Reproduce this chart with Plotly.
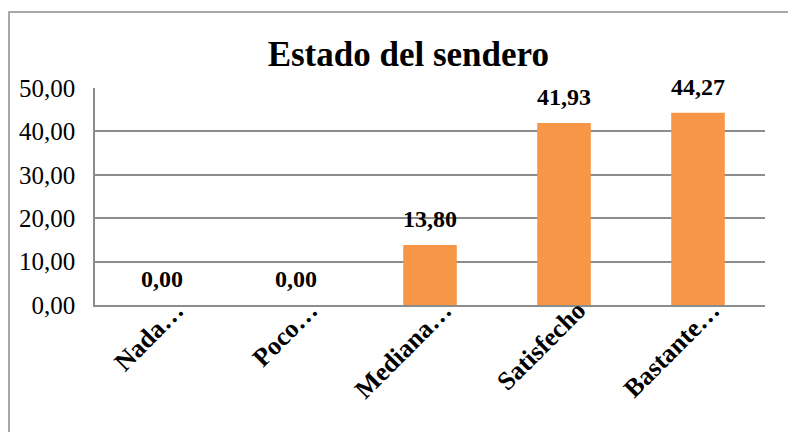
import plotly.graph_objects as go

categories = ["Nada…", "Poco…", "Mediana…", "Satisfecho", "Bastante…"]
values = [0.00, 0.00, 13.80, 41.93, 44.27]
y_ticks = [0, 10, 20, 30, 40, 50]

SERIF = "Liberation Serif, Times New Roman, serif"
GRID = "#8c8c8c"

fig = go.Figure(
    go.Bar(
        x=categories,
        y=values,
        marker_color="#F79646",
        marker_line_width=0,
        width=0.4,
    )
)

# data labels above bars
for c, v in zip(categories, values):
    fig.add_annotation(
        x=c, y=v, text=f"<b>{v:.2f}</b>".replace(".", ","),
        showarrow=False, yanchor="bottom", yshift=11,
        font=dict(family=SERIF, size=24, color="black"),
    )

# page has an 8px body margin, so the figure is sized to fit the window
W, H = 788, 424
L, R, T, B = 87, 31, 80, 127
pw, ph = W - L - R, H - T - B
# outer chart border (left/top visible only)
fig.add_shape(
    type="rect", xref="paper", yref="paper",
    x0=(1 - L) / pw, x1=(900 - L) / pw,
    y0=-(600 - ph) / ph, y1=1 + (T - 4) / ph,
    line=dict(color=GRID, width=1.5), layer="below",
)

fig.update_layout(
    width=W, height=H,
    margin=dict(l=L, r=R, t=T, b=B),
    paper_bgcolor="white", plot_bgcolor="white",
    separators=",.",
    showlegend=False,
    title=dict(
        text="<b>Estado del sendero</b>", x=0.508, xanchor="center",
        y=1 - 46 / H, yanchor="middle",
        font=dict(family=SERIF, size=35, color="black"),
    ),
    font=dict(family=SERIF, color="black"),
)
fig.update_yaxes(
    range=[0, 50], tickvals=y_ticks, tickformat=".2f",
    showgrid=True, gridcolor=GRID, gridwidth=1.5,
    showline=True, linecolor=GRID, linewidth=1.5,
    ticks="", tickfont=dict(size=25), zeroline=False, ticklabelstandoff=13,
)
fig.update_xaxes(
    tickangle=-45, tickvals=categories,
    ticktext=[f"<b>{c}</b>" for c in categories],
    tickfont=dict(size=26), showline=True, linecolor=GRID, linewidth=1.5,
    ticks="", ticklabelstandoff=-22, ticklabelshift=14,
)

fig.write_html("out.html")
